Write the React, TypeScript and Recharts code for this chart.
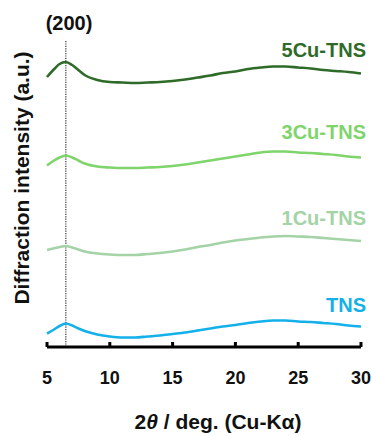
import { LineChart, Line, XAxis, YAxis, ReferenceLine } from 'recharts';

// 2θ positions (deg)
const twoTheta = [5, 5.5, 6, 6.5, 7, 7.5, 8, 9, 10, 11, 12, 13, 14, 15, 16, 17, 18, 19, 20, 21, 22, 23, 24, 25, 26, 27, 28, 29, 30];

// stacked intensities (a.u., already offset)
const cu5 = [270, 277, 283, 285, 282, 277, 272, 267, 265, 264.5, 264, 264.5, 265, 266, 267.5, 269.5, 271.5, 274, 275.5, 278, 279.5, 280.5, 280.5, 279.5, 278.5, 277, 276, 275, 273.5];
const cu3 = [181.5, 186, 189.5, 191.5, 189.5, 186.5, 183.5, 180.5, 179.5, 179, 179, 179.5, 180, 181, 182.5, 184.5, 186.5, 188.5, 190.5, 192.5, 194.5, 195.5, 195.5, 194.5, 194, 193, 192, 190.5, 189.5];
const cu1 = [97, 98.5, 100, 101, 99.5, 97.5, 95.5, 93.5, 92.5, 92, 92, 93, 94, 95.5, 97.5, 100, 102, 104.5, 106.5, 108, 109.5, 110.5, 111, 110.5, 110, 109, 108, 107, 106];
const tns = [13.5, 17, 21, 23.5, 21.5, 18.5, 16, 12.5, 10.5, 9.5, 9.5, 10.5, 11.5, 13, 14.5, 16.5, 18.5, 20.5, 22, 24, 25.5, 26.5, 26.5, 25.5, 25, 24, 23, 21.5, 20.5];

const xTicks = [5, 10, 15, 20, 25, 30];
const peakPos = 6.5;

const series = [
  { key: 'cu5', name: '5Cu-TNS', color: '#2f6b28', labelY: 57 },
  { key: 'cu3', name: '3Cu-TNS', color: '#7fd46c', labelY: 139 },
  { key: 'cu1', name: '1Cu-TNS', color: '#a3d3a6', labelY: 225 },
  { key: 'tns', name: 'TNS', color: '#14b0ea', labelY: 312 },
];

const data = twoTheta.map((x, i) => ({ x, cu5: cu5[i], cu3: cu3[i], cu1: cu1[i], tns: tns[i] }));

const FONT = '"Liberation Sans", Arial, sans-serif';

const Tick = ({ x, y, payload }: any) => (
  <g>
    <line x1={x} x2={x} y1={y - 5} y2={y} stroke="#000" strokeWidth={3} />
    <text x={x} y={y + 37} textAnchor="middle" fontFamily={FONT} fontWeight="bold" fontSize={18} fill="#111">
      {payload.value}
    </text>
  </g>
);

export default function App() {
  return (
    <div style={{ position: 'absolute', left: 0, top: 0, width: 371, height: 436, background: '#fff' }}>
      <LineChart width={371} height={436} data={data} margin={{ top: 41, right: 10, bottom: 59, left: 47 }}>
        <XAxis
          dataKey="x"
          type="number"
          domain={[5, 30]}
          ticks={xTicks}
          height={30}
          tickSize={0}
          tickMargin={0}
          tickLine={false}
          axisLine={{ stroke: '#000', strokeWidth: 3 }}
          tick={<Tick />}
          interval={0}
        />
        <YAxis hide type="number" domain={[0, 306]} />
        <ReferenceLine x={peakPos} stroke="#333" strokeWidth={1.2} strokeDasharray="1.2 1.2" />
        {series.map((s) => (
          <Line
            key={s.key}
            dataKey={s.key}
            type="monotone"
            stroke={s.color}
            strokeWidth={2.6}
            dot={false}
            isAnimationActive={false}
          />
        ))}
      </LineChart>
      <svg width={371} height={436} style={{ position: 'absolute', left: 0, top: 0, pointerEvents: 'none' }}>
        <text x={69} y={30} textAnchor="middle" fontFamily={FONT} fontWeight="bold" fontSize={20} fill="#111">
          (200)
        </text>
        {series.map((s) => (
          <text key={s.key} x={366} y={s.labelY} textAnchor="end" fontFamily={FONT} fontWeight="bold" fontSize={20} fill={s.color}>
            {s.name}
          </text>
        ))}
        <text
          x={29}
          y={178}
          transform="rotate(-90 29 178)"
          textAnchor="middle"
          fontFamily={FONT}
          fontWeight="bold"
          fontSize={21}
          fill="#111"
        >
          Diffraction intensity (a.u.)
        </text>
        <text x={218} y={429} textAnchor="middle" fontFamily={FONT} fontWeight="bold" fontSize={21} fill="#111">
          2<tspan fontStyle="italic">θ</tspan> / deg. (Cu-Kα)
        </text>
      </svg>
    </div>
  );
}
